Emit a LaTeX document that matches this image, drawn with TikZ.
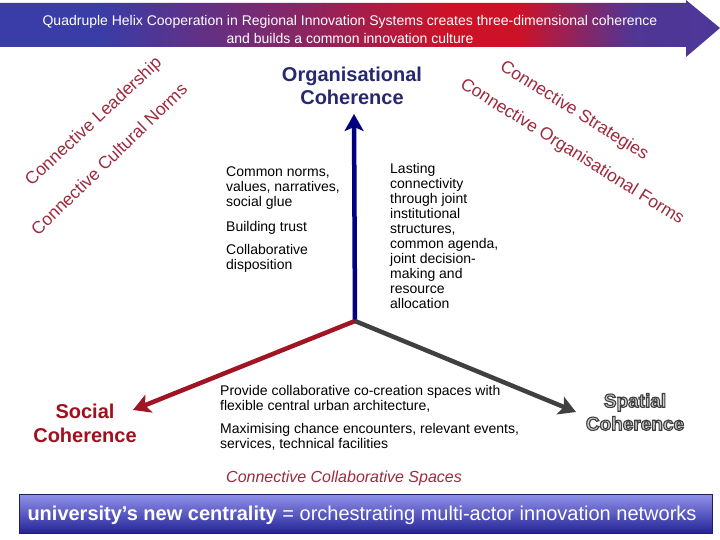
\documentclass[tikz,border=0pt]{standalone}
\usepackage{fontspec}
\setmainfont{Liberation Sans}
\usetikzlibrary{arrows.meta}
\definecolor{bblue}{RGB}{58,60,168}
\definecolor{bred}{RGB}{205,18,40}
\definecolor{cred}{RGB}{158,42,62}
\definecolor{navyarrow}{RGB}{0,0,128}
\definecolor{orgcol}{RGB}{40,40,112}
\definecolor{socred}{RGB}{160,16,30}
\definecolor{spred}{RGB}{160,20,36}
\definecolor{grayarrow}{RGB}{64,64,64}
\definecolor{spfill}{RGB}{205,205,205}
\definecolor{bantop}{RGB}{146,146,236}
\definecolor{banbot}{RGB}{36,36,150}
\definecolor{banedge}{RGB}{30,30,100}
\pgfdeclarehorizontalshading{topbanner}{100bp}{color(0bp)=(bblue); color(32bp)=(bblue); color(45bp)=(bblue!50!bred); color(56bp)=(bred); color(61bp)=(bred); color(69bp)=(bblue!85!bred); color(100bp)=(bblue)}
\newcommand{\outlinetext}[1]{\special{pdf:literal direct 2 Tr 1.1 w 0.25 0.25 0.25 RG}#1\special{pdf:literal direct 0 Tr}}
\tikzset{
  body/.style={inner sep=0pt, align=left, font=\fontsize{14}{15}\selectfont},
  diag/.style={inner sep=0pt, text=cred, font=\fontsize{17.5}{17.5}\selectfont},
  bigarrow/.style={line width=4.5pt, -{Stealth[length=17pt,width=19pt,inset=4pt]}},
  sptext/.style={inner sep=0pt, align=center, font=\fontsize{19}{23}\selectfont\bfseries}
}
\begin{document}
\begin{tikzpicture}[x=1pt,y=-1pt]
\useasboundingbox (0,0) rectangle (720,540);
\fill[white] (0,0) rectangle (720,540);

% top banner arrow
\shade[shading=topbanner] (0,3) -- (686,3) -- (686,0) -- (720,28) -- (686,57) -- (686,47) -- (0,47) -- cycle;
\node[inner sep=0pt, align=center, text=white, font=\fontsize{14}{18}\selectfont] (toptext) at (350,29)
  {Quadruple Helix Cooperation in Regional Innovation Systems creates three-dimensional coherence\\and builds a common innovation culture};

% diagonal labels
\node[diag, rotate=43] (lead) at (94,122) {Connective Leadership};
\node[diag, rotate=44] (cult) at (109,159) {Connective Cultural Norms};
\node[diag, rotate=-32] (strat) at (574,111) {Connective Strategies};
\node[diag, rotate=-32] (orgf) at (572,152) {Connective Organisational Forms};

% titles
\node[inner sep=0pt, align=center, text=orgcol, font=\fontsize{20}{23}\selectfont\bfseries] (org) at (352,86) {Organisational\\Coherence};
\node[inner sep=0pt, align=center, text=socred, font=\fontsize{20}{24}\selectfont\bfseries] (soc) at (85,423) {Social\\Coherence};
\node[sptext, text=spfill] (spa) at (635,412) {\outlinetext{Spatial}\\\outlinetext{Coherence}};

% axes
\coordinate (o) at (355,321);
\coordinate (orgtip) at (354,114);
\coordinate (soctip) at (133,410);
\coordinate (spatip) at (576,412);
\draw[bigarrow, navyarrow] (o) -- (orgtip);
\draw[bigarrow, spred] (o) -- (soctip);
\draw[bigarrow, grayarrow] (o) -- (spatip);

% body texts
\node[body, anchor=north west] (l1) at (226,167) {Common norms,\\values, narratives,\\social glue};
\node[body, anchor=north west] (l2) at (226,221) {Building trust};
\node[body, anchor=north west] (l3) at (226,244) {Collaborative\\disposition};
\node[body, anchor=north west] (r1) at (390,163) {Lasting\\connectivity\\through joint\\institutional\\structures,\\common agenda,\\joint decision-\\making and\\resource\\allocation};
\node[body, anchor=north west] (b1) at (220,385) {Provide collaborative co-creation spaces with\\flexible central urban architecture,};
\node[body, anchor=north west] (b2) at (220,423) {Maximising chance encounters, relevant events,\\services, technical facilities};
\node[inner sep=0pt, anchor=base west, text=cred, font=\fontsize{16}{16}\selectfont\itshape] (ccs) at (226,482) {Connective Collaborative Spaces};

% bottom banner
\shade[top color=bantop, bottom color=banbot, draw=banedge, line width=0.8pt] (19,494) rectangle (712,533);
\node[inner sep=0pt, text=white, font=\fontsize{20}{20}\selectfont] (uni) at (362,515)
  {\textbf{university’s new centrality} = orchestrating multi-actor innovation networks};
\end{tikzpicture}
\end{document}
